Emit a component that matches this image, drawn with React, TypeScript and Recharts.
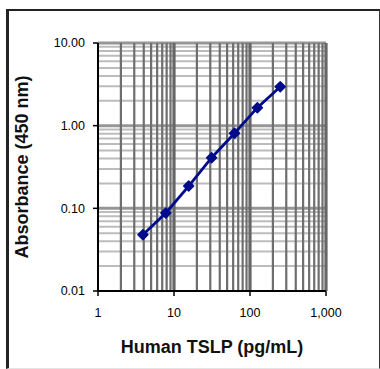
import { LineChart, Line, XAxis, YAxis, ReferenceLine } from 'recharts';

const concentrations = [3.9, 7.8, 15.6, 31.25, 62.5, 125, 250];
const absorbance = [0.048, 0.088, 0.186, 0.41, 0.81, 1.65, 2.95];

const xTicks = [1, 10, 100, 1000];
const yTicks = [0.01, 0.1, 1, 10];

const xMinorGrid = [2, 3, 4, 5, 6, 7, 8, 9, 20, 30, 40, 50, 60, 70, 80, 90, 200, 300, 400, 500, 600, 700, 800, 900];
const xMajorGrid = [10, 100, 1000];
const yMinorGrid = [0.02, 0.03, 0.04, 0.05, 0.06, 0.07, 0.08, 0.09, 0.2, 0.3, 0.4, 0.5, 0.6, 0.7, 0.8, 0.9, 2, 3, 4, 5, 6, 7, 8, 9];
const yMajorGrid = [0.1, 1, 10];

const data = concentrations.map((c, i) => ({ conc: c, abs: absorbance[i] }));

const NAVY = '#000c8c';
const font = '"Liberation Sans", Arial, sans-serif';

const Diamond = (props: any) => {
  const { cx, cy, index } = props;
  if (cx == null || cy == null) return null;
  const r = 5;
  return (
    <path
      key={index}
      d={`M${cx},${cy - r} L${cx + r},${cy} L${cx},${cy + r} L${cx - r},${cy} Z`}
      fill={NAVY}
      stroke={NAVY}
      strokeWidth={1.5}
      strokeLinejoin="round"
    />
  );
};

export default function App() {
  return (
    <div style={{ position: 'absolute', left: 0, top: 0, width: 380, height: 369, background: '#fff', fontFamily: font }}>
      <div
        style={{
          position: 'absolute',
          left: 6,
          top: 9,
          width: 370,
          height: 357,
          borderLeft: '3px solid #222',
          borderTop: '2px solid #222',
          borderRight: '1.5px solid #333',
          borderBottom: '1px solid #e4e4e4',
        }}
      />
      <LineChart
        width={380}
        height={369}
        data={data}
        margin={{ top: 43, right: 54, bottom: 0, left: 0 }}
        style={{ position: 'absolute', left: 0, top: 0 }}
      >
        {yMinorGrid.map((v) => (
          <ReferenceLine key={`ym${v}`} y={v} stroke="#bcbcbc" strokeWidth={2} />
        ))}
        {yMajorGrid.map((v) => (
          <ReferenceLine key={`yM${v}`} y={v} stroke="#969696" strokeWidth={3} />
        ))}
        {xMinorGrid.map((v) => (
          <ReferenceLine key={`xm${v}`} x={v} stroke="#6e6e6e" strokeWidth={2.2} />
        ))}
        {xMajorGrid.map((v) => (
          <ReferenceLine key={`xM${v}`} x={v} stroke="#666" strokeWidth={3.2} />
        ))}
        <XAxis
          dataKey="conc"
          type="number"
          scale="log"
          domain={[1, 1000]}
          ticks={xTicks}
          allowDataOverflow
          height={78}
          tickFormatter={(v) => Number(v).toLocaleString('en-US')}
          tick={{ fontSize: 12.5, fill: '#000', fontFamily: font }}
          axisLine={{ stroke: '#000', strokeWidth: 2 }}
          tickLine={{ stroke: '#000', strokeWidth: 1.5 }}
          tickSize={5}
          tickMargin={12}
          label={{
            value: 'Human TSLP (pg/mL)',
            position: 'insideBottom',
            offset: 16,
            style: { fontSize: 18, fontWeight: 'bold', fill: '#111', fontFamily: font },
          }}
        />
        <YAxis
          dataKey="abs"
          type="number"
          scale="log"
          domain={[0.01, 10]}
          ticks={yTicks}
          allowDataOverflow
          width={98}
          tickFormatter={(v) => Number(v).toFixed(2)}
          tick={{ fontSize: 12.5, fill: '#000', fontFamily: font }}
          axisLine={{ stroke: '#000', strokeWidth: 2 }}
          tickLine={{ stroke: '#000', strokeWidth: 1.5 }}
          tickSize={5}
          tickMargin={8}
          label={{
            value: 'Absorbance (450 nm)',
            angle: -90,
            position: 'insideLeft',
            offset: 22,
            style: { fontSize: 18, fontWeight: 'bold', fill: '#111', fontFamily: font, textAnchor: 'middle' },
          }}
        />
        <Line
          dataKey="abs"
          stroke={NAVY}
          strokeWidth={2.8}
          dot={Diamond}
          activeDot={false}
          isAnimationActive={false}
        />
      </LineChart>
    </div>
  );
}
